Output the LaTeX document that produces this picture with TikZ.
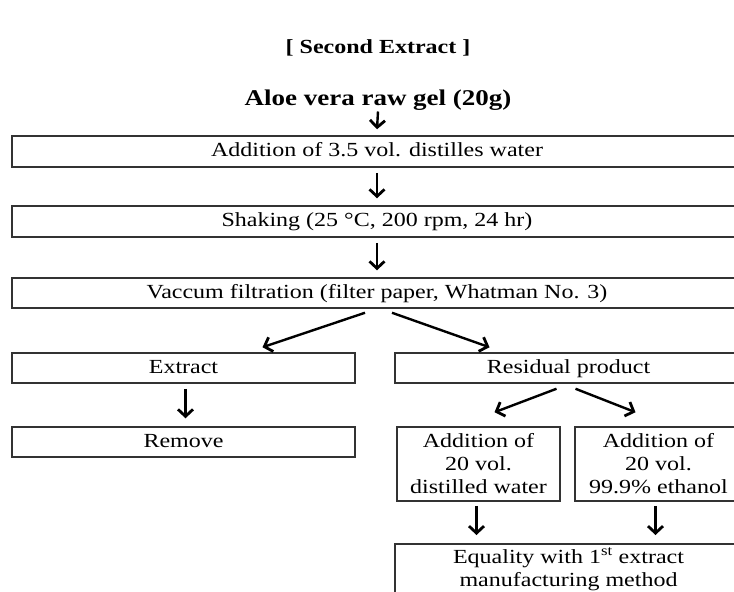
\documentclass[tikz,border=0pt]{standalone}
\usepackage{fontspec}
\setmainfont{Liberation Serif}[FakeStretch=1.2]
\usetikzlibrary{arrows.meta,calc}
\begin{document}
\begin{tikzpicture}[x=1pt,y=-1pt,
  box/.style={draw=black!80, line width=1.5pt, inner sep=0pt, align=center,
    font=\fontsize{20}{23}\selectfont},
  one/.style={text height=14pt, text depth=4pt},
  arr/.style={line width=2.4pt, -{Straight Barb[length=7pt,width=15pt,line width=2.8pt]}},
  ttl/.style={inner sep=0pt, font=\fontsize{20}{24}\selectfont\bfseries},
  sub/.style={inner sep=0pt, font=\fontsize{22.5}{26}\selectfont\bfseries}]
\clip (0,0) rectangle (734,592);
\fill[white] (0,0) rectangle (734,592);
\node[ttl] (title) at (378,48) {[ Second Extract ]};
\node[sub] (aloe) at (378,100) {Aloe vera raw gel (20g)};
\node[box, one, minimum width=730, minimum height=31] (b1) at (377,151.5) {Addition of 3.5 vol. distilles water};
\node[box, one, minimum width=730, minimum height=31] (b2) at (377,221.5) {Shaking (25 °C, 200 rpm, 24 hr)};
\node[box, one, minimum width=730, minimum height=30] (b3) at (377,293) {Vaccum filtration (filter paper, Whatman No. 3)};
\node[box, one, minimum width=343, minimum height=30] (ext) at (183.5,368) {Extract};
\node[box, one, minimum width=347, minimum height=30] (res) at (568.5,368) {Residual product};
\node[box, one, minimum width=343, minimum height=30] (rem) at (183.5,442) {Remove};
\node[box, minimum width=163, minimum height=74] (dw) at (478.5,464) {Addition of\\20 vol.\\distilled water};
\node[box, minimum width=167, minimum height=74] (eth) at (658.5,464) {Addition of\\20 vol.\\99.9\% ethanol};
\node[box, inner ysep=4pt, text depth=22pt, minimum width=347, anchor=north] (fin) at (568.5,543) {Equality with 1\textsuperscript{st} extract\\manufacturing method};
\draw[arr] ($(aloe.south)+(0,1)$) -- ($(b1.north)+(0,-6)$);
\draw[arr] ($(b1.south)+(0,5)$) -- ($(b2.north)+(0,-7)$);
\draw[arr] ($(b2.south)+(0,5)$) -- ($(b3.north)+(0,-7)$);
\draw[arr] ($(b3.south)+(-12,4)$) -- ($(ext.north)+(79,-5)$);
\draw[arr] ($(b3.south)+(15,4)$) -- ($(res.north)+(-79,-5)$);
\draw[arr] ($(ext.south)+(2,5)$) -- ($(rem.north)+(2,-8)$);
\draw[arr] ($(res.south)+(-12,5)$) -- ($(dw.north)+(16,-14)$);
\draw[arr] ($(res.south)+(7,5)$) -- ($(eth.north)+(-23,-14)$);
\draw[arr] ($(dw.south)+(-2,4)$) -- ($(fin.north)+(-92,-8)$);
\draw[arr] ($(eth.south)+(-3,4)$) -- ($(fin.north)+(87,-8)$);
\end{tikzpicture}
\end{document}
